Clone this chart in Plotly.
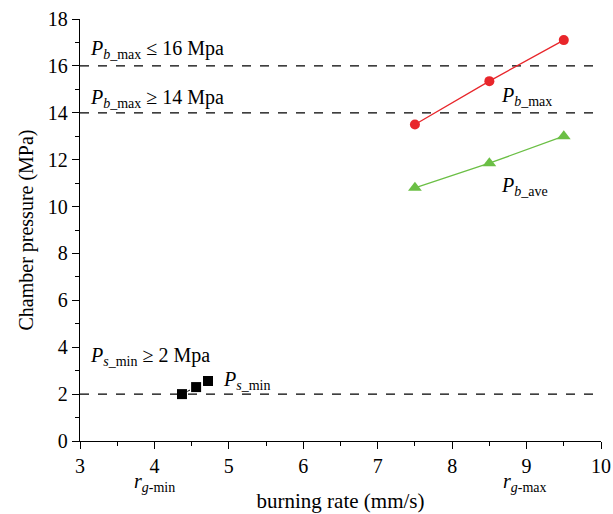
import plotly.graph_objects as go

rate_b = [7.5, 8.5, 9.5]
pb_max = [13.5, 15.35, 17.1]
pb_ave = [10.8, 11.85, 13.0]
rate_s = [4.37, 4.56, 4.72]
ps_min = [2.0, 2.3, 2.56]
limits = [16, 14, 2]
xticks = [3, 4, 5, 6, 7, 8, 9, 10]
yticks = [0, 2, 4, 6, 8, 10, 12, 14, 16, 18]

FONT = "Liberation Serif"
fig = go.Figure()

for v in limits:
    fig.add_trace(go.Scatter(x=[3, 9.95], y=[v, v], mode="lines",
                             line=dict(color="black", width=1.3, dash="dash"),
                             showlegend=False, hoverinfo="skip"))

fig.add_trace(go.Scatter(x=rate_b, y=pb_max, mode="lines+markers",
                         line=dict(color="#e8262b", width=1.3),
                         marker=dict(symbol="circle", size=10, color="#e8262b"),
                         showlegend=False, cliponaxis=False))
fig.add_trace(go.Scatter(x=rate_b, y=pb_ave, mode="lines+markers",
                         line=dict(color="#6bbf45", width=1.3),
                         marker=dict(symbol="triangle-up", size=12, color="#6bbf45"),
                         showlegend=False, cliponaxis=False))
fig.add_trace(go.Scatter(x=rate_s, y=ps_min, mode="lines+markers",
                         line=dict(color="black", width=1, dash="dot"),
                         marker=dict(symbol="square", size=10, color="black"),
                         showlegend=False))

ann = [
    (3.11, 16.7, "<i>P</i><sub><i>b</i>_max</sub> ≤ 16 Mpa"),
    (3.11, 14.6, "<i>P</i><sub><i>b</i>_max</sub> ≥ 14 Mpa"),
    (3.11, 3.6, "<i>P</i><sub><i>s</i>_min</sub> ≥ 2 Mpa"),
    (8.63, 14.7, "<i>P</i><sub><i>b</i>_max</sub>"),
    (8.63, 10.85, "<i>P</i><sub><i>b</i>_ave</sub>"),
    (4.9, 2.6, "<i>P</i><sub><i>s</i>_min</sub>"),
]
for x, y, t in ann:
    fig.add_annotation(x=x, y=y, text=t, showarrow=False, xanchor="left", yanchor="middle",
                       font=dict(family=FONT, size=20, color="black"))

fig.add_annotation(x=4.0, xref="x", y=-0.065, yref="paper", text="<i>r</i><sub><i>g</i>-min</sub>",
                   showarrow=False, yanchor="top", font=dict(family=FONT, size=20, color="black"))
fig.add_annotation(x=8.98, xref="x", y=-0.065, yref="paper", text="<i>r</i><sub><i>g</i>-max</sub>",
                   showarrow=False, yanchor="top", font=dict(family=FONT, size=20, color="black"))

axis_common = dict(showgrid=False, zeroline=False, showline=True, linecolor="black",
                   linewidth=1.3, ticks="outside", ticklen=7, tickwidth=1.3, automargin=False,
                   tickcolor="black", tickfont=dict(family=FONT, size=20, color="black"),
                   minor=dict(ticks="outside", ticklen=4, tickwidth=1.3, tickcolor="black"))

fig.update_xaxes(range=[3, 10], tickvals=xticks, minor_dtick=0.5,
                 title=dict(text="burning rate (mm/s)", font=dict(family=FONT, size=21, color="black"),
                            standoff=17),
                 **axis_common)
fig.update_yaxes(range=[0, 18], tickvals=yticks, minor_dtick=1,
                 title=dict(text="Chamber pressure (MPa)", font=dict(family=FONT, size=20, color="black"),
                            standoff=8),
                 **axis_common)

fig.update_layout(width=613, height=514, margin=dict(l=80, r=12, t=19, b=73),
                  plot_bgcolor="white", paper_bgcolor="white")
fig.write_html("out.html")
